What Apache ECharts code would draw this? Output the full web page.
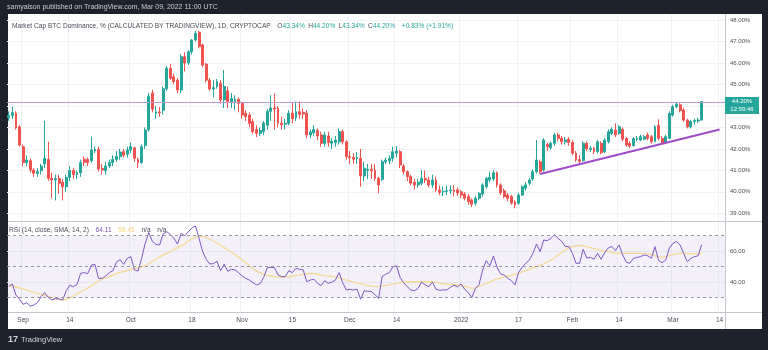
<!DOCTYPE html>
<html><head><meta charset="utf-8">
<script src="https://cdn.jsdelivr.net/npm/echarts@6/dist/echarts.min.js"></script>
<style>html,body{margin:0;padding:0;background:#1e222d;}#c{width:768px;height:350px;}</style>
</head><body><div id="c"></div>
<script>
// ---- categories (daily, 2021-08-28 .. 2022-03-15) ----
const firstDay = [2021, 7, 28];
const dayCount = 200;
const dates = [];
for (let i = 0; i < dayCount; i++) {
  dates.push(new Date(Date.UTC(firstDay[0], firstDay[1], firstDay[2] + i)).toISOString().slice(0, 10));
}
// ---- time axis tick labels ----
const tickDates = ['2021-09-01','2021-09-14','2021-10-01','2021-10-18','2021-11-01','2021-11-15','2021-12-01','2021-12-14','2022-01-01','2022-01-17','2022-02-01','2022-02-14','2022-03-01','2022-03-14'];
const tickLabels = ['Sep','14','Oct','18','Nov','15','Dec','14','2022','17','Feb','14','Mar','14'];
// ---- price axis ----
const priceGridValues = [39,40,41,42,43,44,45,46,47,48];
const priceLabelValues = [39,40,41,42,43,45,46,47,48];
const rsiGridValues = [40,60];
const rsiLevels = [70,50,30];
// ---- daily candles [open, close, low, high] (%) ----
const augCandles = [
[43.45,43.55,43.30,43.75],[43.55,43.68,43.40,43.95],[43.66,42.97,42.90,43.75],[43.03,42.18,42.10,43.10]];
const sepCandles = [
[42.10,41.36,41.20,42.20],[41.36,41.48,41.20,41.70],[41.45,41.02,40.90,41.55],[41.02,40.86,40.70,41.10],
[40.86,40.95,40.70,41.10],[40.99,41.20,40.80,41.30],[41.30,41.56,41.10,43.31],[41.51,40.63,40.50,42.33],
[40.63,40.55,39.70,40.90],[40.55,40.62,39.60,40.80],[40.62,40.40,39.90,40.80],[40.45,40.24,39.60,40.60],
[40.24,40.67,40.00,40.80],[40.67,40.99,40.50,41.20],[40.99,40.80,40.60,41.10],[40.80,40.90,40.60,41.00],
[40.89,41.36,40.70,41.50],[41.52,41.38,41.20,41.65],[41.50,41.36,41.20,41.60],[41.45,41.95,41.35,42.57],
[41.90,41.97,41.80,42.10],[41.97,41.06,40.95,42.10],[41.09,41.02,40.80,41.30],[40.99,41.20,40.80,41.40],
[41.20,41.36,41.10,41.50],[41.36,41.51,41.20,41.70],[41.51,41.64,41.40,41.90],[41.64,41.85,41.50,42.00],
[41.87,41.70,41.60,42.00],[41.75,41.95,41.60,42.10]];
const octCandles = [
[41.95,42.10,41.80,42.30],[42.05,41.56,41.40,42.10],[41.51,41.36,41.10,41.60],[41.36,42.10,41.30,42.20],
[42.15,42.88,42.00,43.00],[42.90,44.45,42.80,44.60],[44.60,43.85,43.70,44.75],[43.65,43.72,43.40,44.00],
[43.72,43.68,43.50,43.95],[43.80,44.80,43.60,44.90],[44.80,45.75,44.70,45.85],[45.75,45.29,45.20,45.95],
[45.35,45.13,45.00,45.50],[45.20,44.74,44.60,45.30],[44.74,46.29,44.60,46.40],[46.29,46.00,45.60,46.50],
[46.00,46.52,45.90,46.60],[46.52,47.07,46.40,47.10],[47.07,47.38,47.00,47.50],[47.43,46.76,46.70,47.50],
[46.84,45.90,45.80,46.90],[45.94,45.20,45.10,46.00],[45.20,44.79,44.70,45.30],[44.79,44.85,44.40,45.20],
[44.90,45.13,44.80,45.25],[45.05,44.28,44.10,45.20],[44.28,44.90,43.90,45.67],[44.70,44.20,43.90,44.90],
[44.20,44.35,43.90,44.60],[44.20,44.30,43.80,44.50],[44.30,44.12,43.70,44.40]];
const novCandles = [
[44.12,43.58,43.40,44.20],[43.66,43.50,43.30,43.80],[43.58,43.19,43.00,43.70],[43.27,42.80,42.70,43.40],
[42.90,42.72,42.55,43.10],[42.72,42.85,42.60,43.00],[42.80,43.20,42.65,43.30],[43.10,43.75,42.90,43.85],
[43.75,43.90,43.30,44.50],[43.90,43.85,42.90,44.59],[43.89,43.19,43.00,44.00],[43.20,43.12,42.90,43.50],
[43.15,43.19,42.90,43.40],[43.19,43.66,43.10,43.80],[43.66,43.40,43.20,44.15],[43.45,43.73,43.30,44.20],
[43.73,43.60,43.40,44.20],[43.70,43.62,43.40,43.90],[43.66,42.65,42.50,43.80],[42.65,42.78,42.50,42.90],
[42.75,42.90,42.60,43.10],[42.85,42.60,42.40,42.95],[42.65,42.26,42.10,42.80],[42.26,42.65,42.10,42.80],
[42.60,42.30,42.10,42.80],[42.26,42.35,42.00,42.50],[42.30,42.41,42.10,42.60],[42.33,42.80,42.20,42.95],
[42.80,42.33,42.20,42.90],[42.33,41.64,41.50,42.40]];
const decCandles = [
[41.64,41.60,41.30,41.90],[41.60,41.52,41.30,41.80],[41.55,41.60,41.30,41.85],[41.56,40.74,40.24,42.00],
[40.74,41.10,40.50,41.40],[41.00,41.05,40.60,41.30],[41.05,40.98,40.60,41.30],[41.00,40.63,40.50,41.30],
[40.63,40.32,39.93,40.70],[40.58,41.40,40.50,41.50],[41.40,41.48,41.30,41.60],[41.45,41.56,41.30,41.70],
[41.56,41.87,41.40,42.10],[41.80,41.90,41.60,42.13],[41.87,41.25,41.10,41.95],[41.20,40.94,40.80,41.30],
[40.94,40.71,40.50,41.00],[40.71,40.40,40.30,40.80],[40.45,40.32,40.10,40.60],[40.32,40.45,40.20,40.60],
[40.40,40.63,40.30,41.00],[40.63,40.55,40.40,41.00],[40.55,40.32,40.20,40.70],[40.32,40.55,40.20,40.80],
[40.55,40.09,40.00,40.70],[40.09,39.97,39.85,40.30],[40.00,40.02,39.80,40.25],[40.02,40.05,39.85,40.30],
[40.05,40.09,39.90,40.30],[40.09,40.02,39.80,40.30],[40.09,39.95,39.80,40.20]];
const janCandles = [
[40.00,39.85,39.70,40.10],[39.90,39.70,39.60,40.00],[39.78,39.55,39.40,39.90],[39.62,39.42,39.30,39.70],
[39.47,39.70,39.35,39.80],[39.70,39.93,39.60,40.00],[39.90,40.32,39.78,40.40],[40.24,40.63,40.15,40.70],
[40.55,40.68,40.45,40.94],[40.60,40.89,40.50,41.00],[40.89,40.32,40.20,40.95],[40.32,39.95,39.85,40.40],
[40.05,39.78,39.70,40.15],[39.85,39.70,39.55,39.95],[39.78,39.47,39.40,39.85],[39.54,39.39,39.23,39.60],
[39.47,39.85,39.40,39.95],[39.85,40.24,39.80,40.30],[40.17,40.32,40.05,40.45],[40.40,40.55,40.30,40.65],
[40.60,40.94,40.50,41.05],[40.94,41.48,40.85,42.41],[41.40,40.94,40.85,41.50],[41.02,42.41,40.95,42.50],
[42.20,42.10,41.90,42.30],[42.05,42.26,41.95,42.35],[42.26,42.65,42.15,42.75],[42.65,42.49,42.35,42.75],
[42.49,42.33,42.20,42.60],[42.33,42.41,42.20,42.55],[42.45,42.30,42.15,42.55]];
const febCandles = [
[42.30,41.80,41.70,42.40],[41.80,41.48,41.40,41.90],[41.50,41.42,41.30,41.70],[41.45,42.26,41.40,42.35],
[42.26,42.00,41.90,42.35],[41.97,42.03,41.85,42.15],[42.03,41.87,41.75,42.10],[41.87,42.33,41.80,42.40],
[42.26,41.82,41.75,42.35],[41.87,42.41,41.80,42.50],[42.33,42.80,42.25,42.90],[42.72,42.91,42.65,43.00],
[42.88,42.65,42.55,43.19],[42.72,43.03,42.65,43.10],[42.91,42.45,42.35,43.00],[42.49,42.18,42.10,42.55],
[42.25,42.13,42.05,42.35],[42.15,42.47,42.10,42.55],[42.45,42.49,42.35,42.60],[42.41,42.57,42.35,42.65],
[42.45,42.57,42.40,42.65],[42.65,42.49,42.40,42.75],[42.57,42.33,42.25,42.65],[42.35,43.03,42.30,43.10],
[43.10,42.49,42.40,43.38],[42.49,42.26,42.20,42.60],[42.29,42.57,42.25,42.65],[42.49,43.65,42.45,43.75]];
const marCandles = [
[43.58,43.96,43.50,44.05],[43.96,44.09,43.90,44.15],[44.05,43.78,43.70,44.12],[43.81,43.34,43.25,43.90],
[43.34,43.03,42.95,43.40],[43.03,43.28,42.95,43.35],[43.28,43.32,43.15,43.40],[43.30,43.34,43.20,43.45],
[43.34,44.20,43.34,44.20]];
// ---- RSI(14) and its SMA(14) ----
const rsiValues = [37.5,38.8,31.7,29.0,
25.7,26.8,24.6,25.3,26.8,30.7,33.2,30.2,28.5,29.4,
29.2,28.5,34.5,38.0,37.1,38.5,45.7,46.2,45.5,51.1,
51.5,42.5,42.5,44.0,46.2,47.4,53.0,54.5,51.5,55.4,
56.5,47.9,47.2,55.4,65.1,72.0,66.2,64.4,64.0,71.1,
72.6,70.7,68.3,64.6,71.5,70.0,72.5,75.0,76.3,68.3,
59.7,54.8,51.7,52.0,53.5,47.5,51.7,47.0,48.3,47.9,
46.2,44.0,42.5,41.4,39.7,38.2,39.0,43.1,49.4,49.6,
49.4,44.6,43.6,43.6,47.4,46.2,48.9,48.3,48.0,40.3,
41.4,41.9,39.3,37.8,41.0,39.3,40.1,41.4,46.2,39.7,
35.0,35.4,35.0,35.5,29.0,34.5,34.1,34.0,32.0,29.5,
43.6,45.1,46.2,50.0,50.5,43.1,39.7,37.1,35.0,34.5,
36.0,40.1,38.2,37.1,40.1,35.4,34.8,35.0,35.0,36.7,
38.0,37.1,38.8,35.4,33.2,30.2,36.0,38.5,47.9,53.9,
50.5,56.9,49.6,45.3,44.6,42.5,41.0,38.2,46.2,49.6,
52.2,54.3,58.6,64.6,59.7,67.2,66.8,68.3,70.5,68.3,
66.4,63.0,63.0,58.6,52.2,52.2,61.2,55.6,56.0,54.8,
58.6,54.8,59.1,62.1,63.0,60.5,64.0,57.6,53.0,52.2,
55.4,56.0,56.5,57.6,57.0,55.4,62.9,54.0,52.6,54.3,
62.0,65.1,66.2,64.0,58.5,53.2,55.4,56.5,57.0,64.11];
const rsiSmaValues = [38.0,37.5,36.9,36.3,
35.6,35.0,34.1,33.5,32.8,32.2,31.5,30.9,30.0,29.4,
29.0,28.5,29.0,29.8,31.1,32.4,33.7,35.0,36.3,37.5,
39.3,40.8,41.9,42.7,43.6,44.6,45.7,46.4,47.0,47.7,
48.3,48.9,49.4,49.8,50.7,51.9,53.5,54.8,56.3,57.6,
58.6,59.7,61.0,62.3,63.4,64.6,66.4,67.9,68.9,69.8,
69.6,68.7,67.7,66.6,65.3,63.8,62.3,60.8,59.3,57.8,
56.0,54.3,52.6,50.7,48.9,47.2,46.2,45.1,44.4,44.0,
43.6,43.4,43.1,43.4,43.6,44.0,44.4,44.6,45.1,45.5,
45.7,45.5,45.1,44.6,44.2,44.0,43.8,43.4,42.7,42.1,
41.4,40.8,40.1,39.5,39.0,38.4,38.0,37.5,37.3,37.1,
37.5,38.0,38.4,38.8,39.3,39.7,40.1,40.3,40.3,40.3,
40.3,40.3,40.3,40.3,40.3,39.9,39.5,39.0,38.8,38.6,
38.4,38.2,38.0,37.3,36.7,36.0,36.3,37.3,38.2,39.3,
40.1,41.4,42.1,42.7,43.4,44.0,44.4,45.1,45.7,46.6,
47.4,48.3,49.2,50.0,50.9,51.9,53.0,54.3,55.8,57.6,
59.3,60.8,62.1,63.1,63.6,63.6,63.4,62.9,62.3,61.6,
61.2,60.6,60.1,59.7,59.3,58.8,58.6,58.6,58.6,58.6,
58.6,58.6,58.6,58.6,58.4,57.8,56.9,56.3,56.0,56.5,
57.1,57.8,58.4,58.6,58.6,58.4,58.4,58.4,58.4,58.45];
// ---- drawings ----
const resistanceLevel = 44.17;
const trendDates = ['2022-01-23','2022-03-14'];
const trendValues = [40.83, 42.90];
const lastPrice = 44.20;
const lastPriceText = ['44.20%', '12:59:46'];
const headerText = 'samyalson published on TradingView.com, Mar 09, 2022 11:00 UTC';
const symbolText = 'Market Cap BTC Dominance, % (CALCULATED BY TRADINGVIEW), 1D, CRYPTOCAP';
const ohlcKeys = ['O','H','L','C'];
const ohlcVals = ['43.34%','44.20%','43.34%','44.20%'];
const changeText = '+0.83% (+1.91%)';
const rsiTitle = 'RSI (14, close, SMA, 14, 2)';
const rsiLegendVals = ['64.11','58.45','n/a','n/a'];

const candles = [].concat(augCandles, sepCandles, octCandles, novCandles, decCandles, janCandles, febCandles, marCandles);

const UP = '#26a69a', DOWN = '#ef5350';
const FONT = 'Liberation Sans, Arial, sans-serif';
const GRID_COLOR = '#f0f2f6';
const TEXT = '#4a4d57';
const isTick = (i, v) => tickDates.indexOf(v) >= 0;
const L = 7, R = 768 - 725, T1 = 14, H1 = 207, T2 = 221, H2 = 91;

const chart = echarts.init(document.getElementById('c'), null, {renderer: 'canvas'});
const option = {
  animation: false,
  backgroundColor: '#1e222d',
  grid: [
    {left: L, right: R, top: T1, height: H1},
    {left: L, right: R, top: T2, height: H2}
  ],
  xAxis: [
    {type: 'category', gridIndex: 0, data: dates, boundaryGap: true,
     axisLine: {show: false}, axisTick: {show: false}, axisLabel: {show: false},
     splitLine: {show: true, interval: isTick, lineStyle: {color: GRID_COLOR, width: 1}}},
    {type: 'category', gridIndex: 1, data: dates, boundaryGap: true,
     axisLine: {show: false}, axisTick: {show: false},
     axisLabel: {show: true, interval: isTick, formatter: v => tickLabels[tickDates.indexOf(v)],
       color: TEXT, fontSize: 6.5, fontFamily: FONT, margin: 5},
     splitLine: {show: true, interval: isTick, lineStyle: {color: GRID_COLOR, width: 1}}}
  ],
  yAxis: [
    {type: 'value', gridIndex: 0, position: 'right', min: 38.642, max: 48.279, scale: true,
     axisLine: {show: false}, axisTick: {show: false, customValues: priceGridValues},
     axisLabel: {customValues: priceLabelValues, formatter: v => v.toFixed(2) + '%',
       color: TEXT, fontSize: 6, fontFamily: FONT, margin: 5},
     splitLine: {show: true, lineStyle: {color: GRID_COLOR, width: 1}}},
    {type: 'value', gridIndex: 1, position: 'right', min: 20.77, max: 79.48, scale: true,
     axisLine: {show: false}, axisTick: {show: false, customValues: rsiGridValues},
     axisLabel: {customValues: rsiGridValues, formatter: v => v.toFixed(2),
       color: TEXT, fontSize: 6, fontFamily: FONT, margin: 5},
     splitLine: {show: true, lineStyle: {color: GRID_COLOR, width: 1}}}
  ],
  series: [
    {type: 'candlestick', xAxisIndex: 0, yAxisIndex: 0, data: candles, barWidth: 2.4,
     itemStyle: {color: UP, color0: DOWN, borderColor: UP, borderColor0: DOWN, borderWidth: 1},
     markLine: {silent: true, symbol: 'none', label: {show: false}, animation: false,
       data: [
         {yAxis: resistanceLevel, lineStyle: {color: '#b99ad4', width: 1.2, type: 'solid'}},
         [{coord: [trendDates[0], trendValues[0]], lineStyle: {color: '#a04cc8', width: 2, type: 'solid'}},
          {coord: [trendDates[1], trendValues[1]]}]
       ]}},
    {type: 'line', xAxisIndex: 1, yAxisIndex: 1, data: rsiSmaValues, symbol: 'none',
     lineStyle: {color: '#f4d996', width: 1.3}, z: 3},
    {type: 'line', xAxisIndex: 1, yAxisIndex: 1, data: rsiValues, symbol: 'none',
     lineStyle: {color: '#7e57c2', width: 1}, z: 4,
     markArea: {silent: true, itemStyle: {color: 'rgba(126,87,194,0.09)'},
       data: [[{yAxis: rsiLevels[2]}, {yAxis: rsiLevels[0]}]]},
     markLine: {silent: true, symbol: 'none', label: {show: false}, animation: false,
       lineStyle: {color: '#9598a1', width: 1, type: [3, 3]},
       data: rsiLevels.map(v => ({yAxis: v}))}}
  ]
};
chart.setOption(option);

const py = chart.convertToPixel({yAxisIndex: 0}, lastPrice);
const FS = 6.6;
const rich = {
  t: {fill: TEXT, fontSize: FS, fontFamily: FONT},
  k: {fill: TEXT, fontSize: FS, fontFamily: FONT},
  v: {fill: UP, fontSize: FS, fontFamily: FONT}
};
let legendStr = '{t|' + symbolText + '}  ';
ohlcKeys.forEach((k, i) => { legendStr += '{k|' + k + '}{v|' + ohlcVals[i] + '} '; });
legendStr += ' {v|' + changeText + '}';
const rsiRich = {
  t: {fill: TEXT, fontSize: FS, fontFamily: FONT},
  p: {fill: '#7e57c2', fontSize: FS, fontFamily: FONT},
  y: {fill: '#f2d27a', fontSize: FS, fontFamily: FONT},
  n: {fill: TEXT, fontSize: FS, fontFamily: FONT}
};
const rsiStr = '{t|' + rsiTitle + '}  {p|' + rsiLegendVals[0] + '}  {y|' + rsiLegendVals[1] + '}  {n|' + rsiLegendVals[2] + '}  {n|' + rsiLegendVals[3] + '}';

chart.setOption({
  graphic: [
    {type: 'rect', z: -10, silent: true, shape: {x: 8, y: 14, width: 754, height: 315}, style: {fill: '#ffffff'}},
    {type: 'text', z: 10, silent: true, x: 7, y: 7, style: {text: headerText, fill: '#c9ccd4', fontSize: 7, fontFamily: FONT, verticalAlign: 'middle'}},
    {type: 'text', z: 10, silent: true, x: 12, y: 26, style: {text: legendStr, rich: rich, verticalAlign: 'middle'}},
    {type: 'text', z: 10, silent: true, x: 9, y: 230, style: {text: rsiStr, rich: rsiRich, verticalAlign: 'middle'}},
    {type: 'line', z: 10, silent: true, shape: {x1: 725.5, y1: 14, x2: 725.5, y2: 329}, style: {stroke: '#c3c6ce', lineWidth: 1}},
    {type: 'line', z: 10, silent: true, shape: {x1: 8, y1: 221.5, x2: 762, y2: 221.5}, style: {stroke: '#c3c6ce', lineWidth: 1}},
    {type: 'line', z: 10, silent: true, shape: {x1: 8, y1: 312.5, x2: 762, y2: 312.5}, style: {stroke: '#c3c6ce', lineWidth: 1}},
    {type: 'rect', z: 10, silent: true, shape: {x: 725, y: py - 4.5, width: 34, height: 17}, style: {fill: UP}},
    {type: 'text', z: 11, silent: true, x: 742, y: py, style: {text: lastPriceText[0], fill: '#ffffff', fontSize: 6, fontFamily: FONT, align: 'center', verticalAlign: 'middle'}},
    {type: 'text', z: 11, silent: true, x: 742, y: py + 7.5, style: {text: lastPriceText[1], fill: '#ffffff', fontSize: 6, fontFamily: FONT, align: 'center', verticalAlign: 'middle'}},
    {type: 'text', z: 10, silent: true, x: 8, y: 340, style: {text: '17', fill: '#d1d4dc', fontSize: 9, fontWeight: 'bold', fontFamily: FONT, verticalAlign: 'middle'}},
    {type: 'text', z: 10, silent: true, x: 21, y: 340, style: {text: 'TradingView', fill: '#d1d4dc', fontSize: 7.5, fontFamily: FONT, verticalAlign: 'middle'}}
  ]
});
</script></body></html>
